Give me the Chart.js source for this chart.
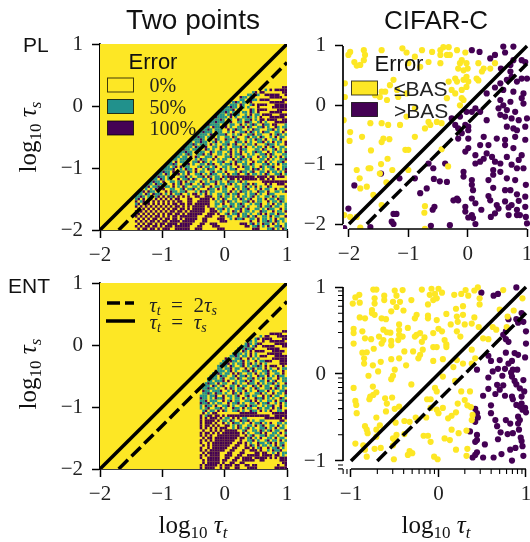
<!DOCTYPE html>
<html>
<head>
<meta charset="utf-8">
<script src="https://cdn.jsdelivr.net/npm/chart.js@4/dist/chart.umd.js"></script>
<style>
  html, body { margin: 0; padding: 0; background: #fff; overflow: hidden; }
  canvas { position: absolute; }
</style>
</head>
<body>
<canvas id="pl2" style="left:0;top:0"></canvas>
<canvas id="plc" style="left:290px;top:0"></canvas>
<canvas id="ent2" style="left:0;top:270px"></canvas>
<canvas id="entc" style="left:290px;top:270px"></canvas>
<script>
// colours of the error classes
const YELLOW = '#fde725', TEAL = '#21918c', PURPLE = '#440154';

// decision lines, in log10 units
const lineT = [-2, 1];
const lineSame = [-2, 1];
const dashT = [-1.7, 1];
const dashS = [-2, 0.7];
const lineTCifarEnt = [-1, 1];
const lineSameCifarEnt = [-1, 1];
const dashTCifarEnt = [-0.7, 1];
const dashSCifarEnt = [-1, 0.7];

const ticksTwoPoints = [-2, -1, 0, 1];
const ticksCifarEnt = [-1, 0, 1];
const minorCifarEnt = [-1.09, -1.046, -0.699, -0.523, -0.398, -0.301, -0.222, -0.155, -0.097, -0.046,
  0.301, 0.477, 0.602, 0.699, 0.778, 0.845, 0.903, 0.954];

// heat rows, top row first, every row ends at tau_t = 1
// . = 0%   o = 50%   # = 100%
const heatStep = 0.04;
const heatTopPL = 0.30;
const heatRowsPL = [
'.##',
'o.#.#####',
'o#.##.......##',
'oo.#o..######..#',
'#oo.o#......#####..',
'oo.o#oo.####.....##',
'o#o.oo.#.......######.',
'ooo.#o..o#.####...#####',
'oo#oo.#o.o...#.....######',
'oooo#.oo...#o.####....####',
'oo#o.oo#.oo.#o.#....#####..',
'ooo.o#ooo..o.#.oo.####...###',
'#oooo.#.o..oo#o.o.#...######.',
'ooo#o.oo..#o.oo#.o.##.####..##',
'oo#ooo.o#..oo.##o..o#.o...#####',
'#oooo.o#.oo..#.o.o#o..#oo.##...o',
'oo.#ooo.#.o..oo#.#o..oo#.o..#o.oo',
'oo#o.ooo..#.o#oo..o.#oo...oo#.o..#',
'o#ooo.#oo..o.#..oo#.#o.o.#oo..oo.#.',
'oooo.#o.ooo#..o.o#..oo#.oo...#.o#o.o',
'o#oo.oo#.o..oo.#o...o#.oo.#o..o.#.oo.',
'ooo#o.oo.#o..#oo.o#..o.o.#oo.#..oo.#..',
'o.oo#oo..o#.o.oo..#oo.#.o..oo#.o.#.oo.#',
'oo#o.ooo.#.o..oo#.o#..o.oo.#...o#oo.o..#',
'ooo.#o.o#..oo.#.o..ooo#.#..o.oo.#.o#..oo.',
'#oo.ooo..#o.o..#oo.#.o.#oo...oo.#o..o#.o.o',
'oo#oo.#.oo..#o.oo..o#.o.#.o..o#oo..#.o.oo.#',
'oo.o#o..oo#.o#..oo.o.#.oo#..o.o..oo#.#o...oo',
'oo.oo.#.#o..ooo.#...oo#.o.o#.oo..#.oo.#.o.#.o',
'oo.ooo#..o.#oo..#.o.oo..#.o#oo.#...oo.#.o..oo#',
'o.#.oo...oo#.#o.o..oo#..o.#oo.o..#.oo.#.o..oo#.',
'oo#o..oo#.o..oo.#o#..o.oo#.#..oo.#o...oo#.o.#.oo',
'oo.o#.#.oo...o#.oo.o#..oo.o..#.#oo.o..#o.oo#...oo',
'oooo#..o.#oo.#..o.#oo..#.o.oo#...oo.#o#.o..oo.#.o#',
'o#oo.#..oo.#o.#.oo..o#.oo.#...o.#oo.o#..oo.#.oo.o.#',
'oo.#o.oo#.o.#..oo#.o.#oo..o.#.oo#..o#.oo.o.#o..oo#.o',
'o#oo.o.#..oo#.o..oo#.#o.oo.#o###########.####.##.###.',
'oo.#o.oo..#.oo#.#o..oo.#.oo#.o.##.#.######.##.#.#.....',
'o#oo.#..oo.o#.#.oo..#.o.oo#.o..#oo.o#.o......##########',
'oo.#oo.o..#.o#.oo#..o.#oo..#.oo.o#.o..oo#.#o...#.#..###.',
'o#.oo#..oo.#.o.#o..oo.o#..#.oo.o#...oo.o#.o.#.o..#o.....#',
'o.o.#o.#..oo..o#.oo#.o...#oo.#.oo..#.o.oo#..o.#.oo..#.oo.',
'o#.#oo.o..#.#oo.oo#...o.#o#.oo...oo.#.o.#oo.o..#oo.#..oo.o#',
'oo.#o.#oo#.o.#.oo#..o.##.o.#.o..oo.o#.oo#..o.oo#.o..#oo.....',
'oo#o.o#.o#.#.#o#.#.#.#..##..###..o#.oo.o.#.oo.o#.o..oo.#o.oo.',
'o#.#.o#.#.#.#.#.##...##...####.#.o.#o..oo.#o.o#..oo.#.oo.#oo.',
'#.o#.#.#.#.#.#.#.##..##..#####..o.o#.#o.o..oo#.#.oo..#.oo.#o.',
'o#.#.#.#.#.#.#.##.##.##.######..oo.#..oo.o#o..o.oo#..o.#.oo.o',
'#.#.#.#.#.#.#.#.##.#.#.#####.#..o..oo.#o.oo#.o...o#.oo#.oo..o',
'.#.#.#.#.#.#.#.##.##.#.#####..##.oo#.o..oo#.o#..oo.o.#oo..#.o',
'#.#.#.#.#.#.#.##.##.#.######..###.o..o.#o.#.oo.o..#oo..#.oo.#',
'.#.#.#.#.#.#.##.##.#.######..###.#..o#.oo#.oo.o..o#.#.oo.#oo.',
'#.#.#.#.##.#.#.##.#######...###...##.oo..#.oo#.o#..oo.#.oo..#',
'.#.#.#.##.#.##.##.#.#####..##....###..o.#oo#..oo.#.oo.o.#.oo.',
'#.#.#.##.#.##.####.#####...##.....###.........#..#.oo#o.#o.o.',
'.#.#.##.#.##.####.#####...##..###.........###.o#.o.#oo.#.o..o',
'#.#.##.##.#.###.######...##....###..........##.oo#.o.#..oo#.o',
'.#.##.##.#.###..######..###......###...........###...oo#.o.#o'
];

const heatTopENT = 0.22;
const heatRowsENT = [
'##',
'.#####..',
'o.##...####',
'o#.####....##',
'o.o..#..######.',
'o#o.o##.....#####',
'oo#.o#..#####...##',
'o.o#oo#.....#####...',
'oo.#o.#.####...#####.',
'o#oo.o.#.o....######..',
'oo#o.oo.#.o.###...#####',
'#oo.oo#..#.o.o.....######',
'oo.#oo.o#.o..#.oo###...###',
'ooo#.o.oo#.o#.o.#.o.....###',
'o#oo.#o..o#.o.oo#o.#.###..#.',
'oo.oo#.oo..#.o#.oo.#.o..#.oo',
'#ooo.o#.o..oo#.#o..oo#.oo..#.',
'oo#o.oo.#.#o..oo.#.o.o#..oo.#.',
'ooo.#oo..o#.oo#.o..#oo.#.o.#oo.',
'o#oo.o#..oo.#o..oo#.o.#.oo..#.oo',
'oo.ooo#.#..o.oo#.#o..oo.#.o#..oo',
'o#oo.#.oo..#o.o..#oo.#.o.oo#.o..#',
'ooo.#o.o#..oo.#.oo..#o.#.oo..o#.oo',
'oo#oo.o..#.#o.oo#..o.#o..oo#.#o.o.',
'#oo.ooo#..o.#.oo.#.o..#oo.#.o..oo#',
'oo#o.#oo.o..#o.#.oo..oo#.o..#.oo.#',
'ooo.oo#..#.oo.o#..o#.oo..#.o#.oo..o',
'#oo.o.#oo#..o.oo.#.o..#oo#.o.o..#o.',
'oo#.ooo..#.o#.oo..oo#.#.o..oo.#.oo#',
'#oo#.o.oo..#.oo#.o..oo.#.oo#..o.#.o',
'o.#oo.#..oo#.o..oo#.#oo..o.oo#..#.o',
'o.o#..oo#.o..#oo.#.oo..#o.oo.#.o#..',
'.o#.oo.#.#o..oo#.o..#oo.#.o.#..oo.#',
'.#.o.##.........#######......######',
'.#.o##.##.#.#################..#####',
'#.#.###.#.oo.#.#.oo.......#######.#',
'#.####.#.oo.#o..#oo#.o..oo......##.',
'#.###.#..#.o.#oo.o..#.oo#.o.#..oo.o',
'#.##.#.#..##.o.#o..oo.#.o#..oo.#.o.',
'#.#.#.#.###..o.#o.o#.o..oo#.o.#.oo.',
'.#..#.#.#.#####..o#..oo.#o.o#.oo..#',
'#.##.#.#.#######.#.o..oo#.#..oo.#.o',
'#.#.#..#########..#.o#..oo#.oo.o..#',
'.#.##.#########.##.o#.o.#..oo.#.oo.',
'#.#.#.########..#..oo#.o..o#.oo.#.o',
'#..#.########..##.#.o..#oo.o#.#.oo.',
'.#.#.#######..##..#.#o.#.oo.o.#.o#.',
'#..#.######..##...##.#.o#..#.oo#.o.',
'#.#.######..##...#..###.#..o.#oo#..',
'.#.#####...##...##....##.##..o.#.oo',
'#.#.####..###..##..#####.####.##.o.',
'#..#####..##..##.####.#####.#.#.###',
'.#.#####.##..##..#####..##......###',
'.#.#####.#..##..##...............##',
'#.#####.#.###.##..##.##........#..#',
'#.####..#.##..##...####.......#####'
];

// scatter points: [log10 tau_t, log10 tau_s]
const plCifarLow = [
[-1.98,.90],[-2.01,.85],[-1.75,.93],[-1.73,.85],[-1.75,.76],[-1.81,.68],[-1.91,.73],[-1.87,.67],[-1.10,.96],[-1.03,.89],
[-1.45,.93],[-.77,.93],[-.89,.82],[-.6,.9],[-.46,.93],[-.41,.98],[-.32,.98],[-.18,.93],[-.35,.85],[-.3,.85],[-.46,.85],
[-.04,.89],[-.66,.73],[-.8,.65],[-1,.71],[-.46,.71],[-.13,.71],[-.1,.76],[-.02,.71],[-.16,.62],[-.07,.59],[0,.62],[.18,.71],
[.27,.62],[.24,.57],[.38,.62],[.46,.71],[-.07,.43],[-.02,.48],[.01,.4],[-.21,.45],[-.18,.4],[-.32,.4],[-.1,.26],[-.02,.31],
[-.1,.12],[-.27,.26],[-.21,.2],[-.35,.12],[-1.31,.34],[-1.39,.23],[-1.48,.14],[-1.56,.17],[-1.45,.23],[-1.25,.43],[-1.19,.26],
[-1.17,.14],[-1.03,.2],[-1.36,.09],[-2.07,.37],[-2.07,.14],[-2.09,-.25],[-1.98,-.45],[-1.64,-.3],[-1.45,-.3],[-1.34,-.33],
[-1.14,-.33],[-1.03,-.19],[-.89,-.05],[-.66,-.28],[-.63,-.33],[-.72,-.39],[-.52,-.28],[-.44,-.3],[-.13,0],[-.07,.09],[.15,.45],
[.18,.42],[-1.99,-.6],[-1.78,-.53],[-1.42,-.56],[-1.45,-.62],[-1.32,-.57],[-.89,-.53],[-1.63,-.76],[-1.05,-.75],[-1,-.75],
[-1.35,-.9],[-1.46,-.99],[-1.87,-1.09],[-1.67,-1.06],[-1.64,-1.06],[-1.27,-1.09],[-1,-1.09],[-1.48,-1.15],[-1.82,-1.23],
[-1.37,-1.3],[-1.81,-1.4],[-1.7,-1.37],[-1.59,-1.51],[-1.45,-1.68],[-1.98,-1.88],[-2.08,-1.85],[-1.87,-1.88],[-.72,-1.7],
[-.73,-1.81],[-1.81,-2.06],[-.44,-.74],[-.33,-1.03],[-.72,-2.08]
];
const plCifarHigh = [
[.07,.93],[.2,.9],[.6,.99],[.77,.99],[.63,.89],[.46,.85],[.38,.79],[.77,.76],[.91,.76],[.97,.73],[.72,.68],[.56,.62],[.72,.57],
[.74,.48],[.91,.45],[1,.45],[.94,.2],[.91,.12],[.83,.4],[.66,.43],[.55,.37],[.46,.3],[.32,.2],[.6,.26],[.77,.23],[.55,.09],
[.72,.06],[.6,0],[.94,.03],[.8,-.11],[.66,-.08],[.52,-.05],[.55,-.16],[.63,-.19],[.74,-.22],[.86,-.25],[1,-.22],[.97,-.36],
[.77,-.39],[.66,-.36],[.83,-.42],[.32,-.25],[.21,-.11],[.13,-.05],[-.02,-.11],[.07,-.11],[.01,-.36],[-.04,-.33],[-.13,-.19],
[-.21,-.33],[-.27,-.22],[.01,-.42],[-.16,-.39],[-.1,-.47],[-.16,-.56],[.01,-.56],[.27,-.53],[.49,-.56],[.63,-.58],[.63,-.67],
[.8,-.53],[.97,-.58],[.01,-.72],[-.04,-.78],[.21,-.67],[.35,-.67],[.32,-.81],[.13,-.84],[.41,-.87],[.46,-.95],[.66,-.87],
[.91,-.84],[.86,-.92],[.77,-.72],[.27,-.9],[.21,-.95],[.13,-.98],[.74,-1],[.55,-.98],[.94,-1.06],[.83,-1.06],[.43,-1.09],
[.55,-1.12],[-.07,-1.12],[-.07,-1.2],[-.58,-1.06],[-.38,-.98],[-.66,-.98],[-.89,-1.23],[-1.15,-1.23],[-1.46,-1.15],[-1.91,-1.35],
[-.57,-1.24],[-.47,-1.28],[-.35,-1.29],[-.69,-1.4],[-.8,-1.48],[.07,-1.26],[.07,-1.34],[.09,-1.43],[.43,-1.17],[.35,-1.26],
[.43,-1.39],[.66,-1.23],[.8,-1.26],[.98,-1.34],[.63,-1.43],[.72,-1.43],[.83,-1.5],[.97,-1.54],[.35,-1.53],[.13,-1.65],[.07,-1.57],
[-.18,-1.57],[-.24,-1.6],[-.16,-1.6],[.38,-1.6],[.49,-1.68],[.63,-1.62],[.86,-1.61],[.97,-1.71],[.74,-1.68],[.69,-1.72],[.52,-1.74],
[-.04,-1.71],[-.04,-1.79],[.23,-1.76],[.07,-1.85],[.01,-1.89],[.09,-1.9],[.46,-1.82],[.39,-1.88],[.69,-1.85],[.83,-1.76],[.88,-1.85],
[.83,-1.85],[.98,-1.88],[1,-1.99],[.13,-2],[-.3,-2.02],[-.62,-2.03],[-1.28,-1.96],[-1.25,-2],[-1.2,-1.83],[-1.25,-1.83],[-.59,-1.76],
[-.56,-1.71],[-2.01,-1.74],[-1.64,-2.05],[-2.08,-2.07]
];
const entCifarLow = [
[-.745,.97],[-.71,.97],[-.5,.96],[-.41,.965],[-.19,.97],[-.08,.98],[0,.98],[.04,.935],[-.04,.92],[-.1,.91],[-.02,.87],[-.06,.85],
[.18,.91],[.26,.92],[.34,.9],[.31,.965],[.41,.96],[.45,.995],[-.905,.91],[-.95,.88],[-.9,.82],[-.98,.81],[-.73,.87],[-.73,.81],
[-.62,.9],[-.62,.85],[-.48,.9],[-.52,.83],[-.44,.83],[-.31,.85],[-.48,.77],[-.54,.72],[-.4,.73],[-.12,.8],[-.76,.735],[-.76,.7],
[-.73,.68],[-.9,.65],[-.84,.64],[-.65,.64],[-.6,.63],[-.25,.68],[-.27,.64],[-.12,.67],[-.12,.64],[.09,.69],[.2,.75],[.28,.78],
[.28,.68],[.21,.66],[.22,.6],[.41,.65],[.38,.58],[.3,.57],[.14,.57],[-.02,.62],[.46,.54],[-.45,.57],[-.35,.53],[-.63,.51],[-.59,.48],
[-.55,.475],[-.97,.52],[-.97,.47],[-.87,.49],[-.45,.505],[-.45,.45],[-.46,.39],[-.41,.43],[-.68,.43],[-.63,.39],[-.84,.41],[-.77,.4],
[-.54,.38],[-.65,.35],[-.54,.33],[-.97,.35],[-.25,.45],[-.21,.47],[-.27,.43],[-.16,.42],[-.19,.37],[0,.52],[.04,.49],[-.06,.47],
[.21,.49],[.25,.43],[.07,.39],[.09,.34],[.09,.31],[-.06,.31],[-.02,.31],[-.18,.28],[-.29,.26],[-.39,.26],[-.74,.29],[-.87,.245],
[-.82,.25],[-.85,.18],[-.85,.12],[-.75,.1],[-.66,.14],[-.54,.17],[-.45,.18],[-.21,.22],[-.23,.18],[-.06,.15],[.05,.17],[.21,.16],
[.38,.28],[.42,.18],[.38,.12],[.17,.08],[.28,.12],[.47,.87],[.47,.8],[.74,.965],[.96,.87],[.86,.73],[.7,.74],[.79,.66],[.78,.54],
[.62,.54],[.66,.51],[.51,.41],[.57,.4],[-.69,.03],[-.5,.05],[-.37,.1],
[-.8,-.02],[-.54,-.06],[-.52,-.02],[-.97,-.16],[-.31,-.12],[.05,-.03],[.19,-.08],[-.04,-.16],[-.02,-.2],[-.75,-.145],[-.71,-.21],
[-.745,-.24],[-.78,-.26],[-.79,-.29],[-.61,-.28],[-.53,-.27],[-.59,-.34],[-.95,-.31],[-.94,-.355],[-.935,-.45],[-.5,-.4],[-.45,-.375],
[-.6,-.43],[-.71,-.5],[-.13,-.29],[-.09,-.29],[-.09,-.39],[-.02,-.41],[.05,-.39],[0,-.45],[.22,-.34],[.2,-.44],[.15,-.48],[.11,-.51],
[.26,-.2],[.36,-.2],[.3,-.3],[.33,-.36],[.37,-.38],[.39,-.47],[.38,-.53],[-.14,-.5],[-.26,-.5],[-.39,-.54],[-.33,-.55],[-.49,-.56],
[-.67,-.59],[-.84,-.6],[-.82,-.64],[-.71,-.64],[-.81,-.68],[-.71,-.72],[-.48,-.7],[-.52,-.74],[-.39,-.69],[-.5,-.76],[-.52,-.82],
[-.95,-.8],[-.86,-.82],[-.84,-.87],[-.73,-.86],[-.66,-.85],[-.82,-.95],[-.51,-.98],[-.33,-.885],[-.3,-.91],[-.35,-.93],[-.05,-.95],
[-.01,-.98],[-.17,-.71],[-.12,-.71],[-.09,-.78],[.07,-.74],[.15,-.64],[.13,-.76],[.23,-.68],[.32,-.65],[.2,-.87],[.33,-.86],[.32,-.94]
];
const entCifarHigh = [
[.49,.935],[.63,.9],[.68,.92],[.89,.995],[.95,.7],[.89,.63],[.8,.63],[.97,.6],[.91,.59],[.77,.49],[.74,.45],[.8,.37],[.77,.4],
[1,.49],[1,.35],[.77,.245],[.87,.24],[.91,.22],[.99,.19],[.57,.21],[.6,.15],[.7,.16],[.84,.15],[.8,.12],[.76,.06],[.68,.06],
[.62,.03],[.44,.05],[.85,.05],[.9,.05],[.83,.015],
[.57,-.04],[.73,-.02],[.84,-.03],[.97,-.07],[.67,-.125],[.74,-.13],[.57,-.17],[.7,-.18],[.87,-.08],[.89,-.12],[.93,-.165],[.98,-.2],
[.65,-.23],[.76,-.25],[.84,-.26],[.51,-.25],[.85,-.29],[.95,-.26],[.6,-.36],[.6,-.45],[.89,-.355],[.95,-.34],[.99,-.39],[.93,-.375],
[.96,-.41],[1,-.44],[.91,-.49],[.93,-.53],[.91,-.57],[.42,-.4],[.44,-.45],[.45,-.5],[.42,-.55],[.65,-.53],[.77,-.53],[.82,-.57],
[.67,-.6],[.71,-.67],[.79,-.69],[.85,-.68],[.92,-.64],[.94,-.73],[.95,-.77],[.68,-.75],[.44,-.7],[.44,-.76],[.53,-.81],[.42,-.78],
[.36,-.66],[.96,-.83],[.88,-.85],[.82,-.87],[.72,-.92],[.63,-.96],[.51,-.96],[.44,-.9],[.42,-.93],[.39,-.96],[.97,-.94],[.84,-.995]
];

// legend texts
const heatLegendTitle = 'Error';
const heatLegendLabels = ['0%', '50%', '100%'];
const cifarLegendLabels = ['\u2264BAS', '>BAS'];

const SERIF = '"Liberation Serif", serif';
const SANS = '"Liberation Sans", sans-serif';

function pairPoints(xs, ys) { return xs.map((x, i) => ({ x: x, y: ys[i] })); }
function toPoints(pairs) { return pairs.map(p => ({ x: p[0], y: p[1] })); }

function heatCells(rows, top, mark) {
  const cells = [];
  rows.forEach((row, j) => {
    for (let i = 0; i < row.length; i++) {
      if (row[i] === mark) cells.push({ x: 1 - heatStep * (row.length - i - 0.5), y: top - heatStep * j });
    }
  });
  return cells;
}

// small helper for the labels with subscripts
function drawParts(ctx, parts, x, y) {
  let width = 0;
  parts.forEach(p => { ctx.font = p.font; width += ctx.measureText(p.text).width; });
  let pos = x - width / 2;
  ctx.textAlign = 'left';
  ctx.textBaseline = 'alphabetic';
  parts.forEach(p => {
    ctx.font = p.font;
    ctx.fillText(p.text, pos, y + (p.dy || 0));
    pos += ctx.measureText(p.text).width;
  });
}
function logLabel(sub) {
  return [
    { text: 'log', font: '25px ' + SERIF },
    { text: '10', font: '17px ' + SERIF, dy: 5 },
    { text: ' \u03c4', font: 'italic 25px ' + SERIF },
    { text: sub, font: 'italic 17px ' + SERIF, dy: 5 }
  ];
}
function tauLabel(two) {
  return [
    { text: '\u03c4', font: 'italic 21px ' + SERIF },
    { text: 't', font: 'italic 14px ' + SERIF, dy: 3 },
    { text: two ? '\u2002=\u20022' : '\u2002=\u2002', font: '21px ' + SERIF },
    { text: '\u03c4', font: 'italic 21px ' + SERIF },
    { text: 's', font: 'italic 14px ' + SERIF, dy: 3 }
  ];
}

const panelPlugin = {
  id: 'panelPlugin',
  beforeDatasetsDraw(chart, args, o) {
    if (!o.yellow) return;
    const a = chart.chartArea, ctx = chart.ctx;
    ctx.save();
    ctx.fillStyle = YELLOW;
    ctx.fillRect(a.left, a.top, a.right - a.left, a.bottom - a.top);
    ctx.restore();
  },
  afterDraw(chart, args, o) {
    const ctx = chart.ctx, a = chart.chartArea, sx = chart.scales.x, sy = chart.scales.y;
    ctx.save();
    ctx.fillStyle = '#111';
    ctx.strokeStyle = '#000';
    // trimmed spines of the scatter panels
    if (o.trim) {
      ctx.lineWidth = 1.7;
      ctx.beginPath();
      ctx.moveTo(a.left, sy.getPixelForValue(o.trim[1]));
      ctx.lineTo(a.left, sy.getPixelForValue(o.trim[0]));
      ctx.moveTo(sx.getPixelForValue(o.trim[0]), a.bottom);
      ctx.lineTo(sx.getPixelForValue(o.trim[1]), a.bottom);
      ctx.stroke();
    }
    if (o.minor) {
      ctx.lineWidth = 1.1;
      ctx.beginPath();
      o.minor.forEach(v => {
        const py = sy.getPixelForValue(v), px = sx.getPixelForValue(v);
        ctx.moveTo(a.left, py); ctx.lineTo(a.left - 5, py);
        ctx.moveTo(px, a.bottom); ctx.lineTo(px, a.bottom + 5);
      });
      ctx.stroke();
    }
    if (o.title) {
      ctx.font = o.titleSize + 'px ' + SANS;
      ctx.textAlign = 'center';
      ctx.textBaseline = 'alphabetic';
      ctx.fillText(o.title, o.titleX, 29);
    }
    if (o.row) {
      ctx.font = '21px ' + SANS;
      ctx.textAlign = 'left';
      ctx.textBaseline = 'alphabetic';
      ctx.fillText(o.row, o.rowX, o.rowY);
    }
    if (o.ylabel) {
      ctx.save();
      ctx.translate(o.ylabelX, o.ylabelY);
      ctx.rotate(-Math.PI / 2);
      drawParts(ctx, logLabel('s'), 0, 0);
      ctx.restore();
    }
    if (o.xlabel) drawParts(ctx, logLabel('t'), o.xlabelX, o.xlabelY);

    // legends
    if (o.legend === 'heat') {
      ctx.font = '22px ' + SANS;
      ctx.textAlign = 'center';
      ctx.fillText(heatLegendTitle, 153, 69);
      [YELLOW, TEAL, PURPLE].forEach((c, i) => {
        const y = 78 + i * 21.5;
        ctx.fillStyle = c;
        ctx.fillRect(107.5, y, 26, 14);
        ctx.strokeStyle = 'rgba(0,0,0,0.75)';
        ctx.lineWidth = 1;
        ctx.strokeRect(107.5, y, 26, 14);
        ctx.fillStyle = '#222';
        ctx.font = '20px ' + SERIF;
        ctx.textAlign = 'left';
        ctx.fillText(heatLegendLabels[i], 149.5, y + 14);
      });
    }
    if (o.legend === 'cifar') {
      ctx.font = '22px ' + SANS;
      ctx.textAlign = 'center';
      ctx.fillText(heatLegendTitle, 109, 71);
      [YELLOW, PURPLE].forEach((c, i) => {
        const y = 81 + i * 21.5;
        ctx.fillStyle = c;
        ctx.fillRect(61.5, y, 26, 14);
        ctx.strokeStyle = 'rgba(0,0,0,0.75)';
        ctx.lineWidth = 1;
        ctx.strokeRect(61.5, y, 26, 14);
        ctx.fillStyle = '#222';
        ctx.font = '21px ' + SANS;
        ctx.textAlign = 'left';
        ctx.fillText(cifarLegendLabels[i], 104, y + 15);
      });
    }
    if (o.legend === 'lines') {
      ctx.strokeStyle = '#000';
      ctx.lineWidth = 3.5;
      ctx.beginPath();
      ctx.setLineDash([13, 5]);
      ctx.moveTo(107, 33);
      ctx.lineTo(134, 33);
      ctx.stroke();
      ctx.beginPath();
      ctx.setLineDash([]);
      ctx.moveTo(106, 51);
      ctx.lineTo(135, 51);
      ctx.stroke();
      ctx.fillStyle = '#222';
      drawParts(ctx, tauLabel(true), 183, 42);
      drawParts(ctx, tauLabel(false), 178, 59);
    }
    ctx.restore();
  }
};

function axis(min, max, ticks, size, side, trimmed) {
  return {
    type: 'linear',
    min: min,
    max: max,
    afterBuildTicks: s => { s.ticks = ticks.map(v => ({ value: v })); },
    afterFit: s => {
      if (side === 'x') s.height = size; else s.width = size;
      // keep tick labels from pushing the chart area in
      s.paddingLeft = s.paddingRight = s.paddingTop = s.paddingBottom = 0;
    },
    border: { display: !trimmed, color: '#000', width: 1.7 },
    grid: { drawOnChartArea: false, drawTicks: true, tickLength: 8, tickWidth: 1.5, tickColor: '#000' },
    ticks: {
      autoSkip: false,
      maxRotation: 0,
      padding: side === 'x' ? 5 : 9,
      color: '#222',
      font: { family: 'Liberation Serif', size: 21 },
      callback: v => (v < 0 ? '\u2212' + Math.abs(v) : String(v))
    }
  };
}

function lineSets(xs, ys, dxs, dys) {
  return [
    { data: pairPoints(xs, ys), showLine: true, borderColor: '#000', borderWidth: 3.5, pointRadius: 0, order: 0, borderCapStyle: 'butt' },
    { data: pairPoints(dxs, dys), showLine: true, borderColor: '#000', borderWidth: 3.5, borderDash: [13, 5], pointRadius: 0, order: 0, borderCapStyle: 'butt' }
  ];
}
function heatSets(rows, top) {
  return [['o', TEAL], ['#', PURPLE]].map(m => ({
    data: heatCells(rows, top, m[0]),
    pointStyle: 'rect', pointRadius: 1.8, pointBorderWidth: 0, backgroundColor: m[1], order: 2
  }));
}
function dotSet(pairs, color) {
  return { data: toPoints(pairs), pointRadius: 3.1, pointBorderWidth: 0, backgroundColor: color, order: 1 };
}

function panel(id, w, h, pad, datasets, scales, decor) {
  const el = document.getElementById(id);
  el.width = w; el.height = h;
  el.style.width = w + 'px'; el.style.height = h + 'px';
  return new Chart(el, {
    type: 'scatter',
    data: { datasets: datasets },
    plugins: [panelPlugin],
    options: {
      responsive: false,
      animation: false,
      events: [],
      layout: { autoPadding: false, padding: pad },
      plugins: { legend: { display: false }, tooltip: { enabled: false }, panelPlugin: decor },
      scales: scales
    }
  });
}

panel('pl2', 310, 270, { top: 44, right: 23 },
  heatSets(heatRowsPL, heatTopPL).concat(lineSets(lineT, lineSame, dashT, dashS)),
  { x: axis(-2, 1, ticksTwoPoints, 40, 'x'), y: axis(-2, 1, ticksTwoPoints, 100, 'y') },
  { yellow: true, title: 'Two points', titleSize: 28, titleX: 193, row: 'PL', rowX: 23, rowY: 52, ylabel: true, ylabelX: 36, ylabelY: 137, legend: 'heat' });

panel('plc', 240, 270, { top: 42, right: 0 },
  [dotSet(plCifarLow, YELLOW), dotSet(plCifarHigh, PURPLE)].concat(lineSets(lineT, lineSame, dashT, dashS)),
  { x: axis(-2.101, 1.05, ticksTwoPoints, 41, 'x', true), y: axis(-2.084, 1.067, ticksTwoPoints, 53, 'y', true) },
  { title: 'CIFAR-C', titleSize: 26, titleX: 146, trim: [-2, 1], legend: 'cifar' });

panel('ent2', 310, 272, { top: 13, right: 23 },
  heatSets(heatRowsENT, heatTopENT).concat(lineSets(lineT, lineSame, dashT, dashS)),
  { x: axis(-2, 1, ticksTwoPoints, 73, 'x'), y: axis(-2, 1, ticksTwoPoints, 100, 'y') },
  { yellow: true, row: 'ENT', rowX: 8, rowY: 23, ylabel: true, ylabelX: 36, ylabelY: 104, xlabel: true, xlabelX: 193, xlabelY: 263, legend: 'lines' });

panel('entc', 240, 272, { top: 13, right: 0 },
  [dotSet(entCifarLow, YELLOW), dotSet(entCifarHigh, PURPLE)].concat(lineSets(lineTCifarEnt, lineSameCifarEnt, dashTCifarEnt, dashSCifarEnt)),
  { x: axis(-1.0914, 1.046, ticksCifarEnt, 73, 'x', true), y: axis(-1.092, 1.046, ticksCifarEnt, 53, 'y', true) },
  { trim: [-1, 1], minor: minorCifarEnt, xlabel: true, xlabelX: 146, xlabelY: 263 });
</script>
</body>
</html>
